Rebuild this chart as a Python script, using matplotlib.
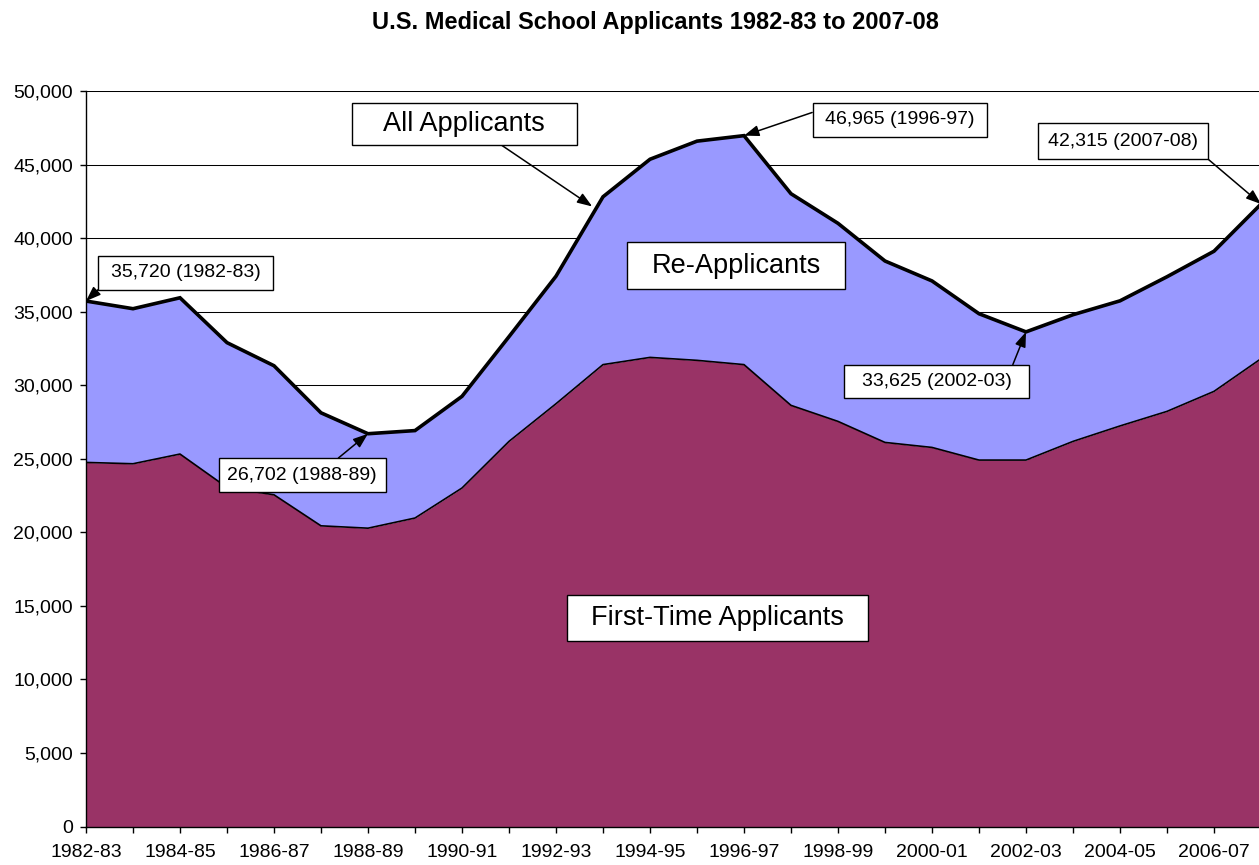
import matplotlib
matplotlib.use("Agg")
import matplotlib.pyplot as plt
from matplotlib.path import Path
from matplotlib.ticker import FuncFormatter

plt.rcParams['font.family'] = ['Liberation Sans', 'DejaVu Sans']

# ---------------- data ----------------
year_labels = ['1982-83', '1983-84', '1984-85', '1985-86', '1986-87', '1987-88',
               '1988-89', '1989-90', '1990-91', '1991-92', '1992-93', '1993-94',
               '1994-95', '1995-96', '1996-97', '1997-98', '1998-99', '1999-00',
               '2000-01', '2001-02', '2002-03', '2003-04', '2004-05', '2005-06',
               '2006-07', '2007-08']
all_applicants = [35720, 35200, 35944, 32893, 31323, 28123, 26702, 26915, 29243,
                  33301, 37410, 42808, 45360, 46591, 46965, 43016, 41004, 38443,
                  37088, 34859, 33625, 34791, 35735, 37373, 39108, 42315]
first_time = [24750, 24660, 25320, 23050, 22550, 20440, 20280, 20970, 23010,
              26180, 28740, 31400, 31890, 31690, 31400, 28630, 27540, 26110,
              25770, 24910, 24910, 26180, 27230, 28220, 29580, 31800]
y_ticks = [0, 5000, 10000, 15000, 20000, 25000, 30000, 35000, 40000, 45000, 50000]
title = 'U.S. Medical School Applicants 1982-83 to 2007-08'

x = list(range(len(year_labels)))

# ---------------- figure ----------------
W, H = 1259, 865
fig = plt.figure(figsize=(W / 100, H / 100), dpi=100)
ax = fig.add_axes([86 / W, 38.5 / H, 1175 / W, 735.5 / H])

ax.fill_between(x, 0, first_time, color='#993366', lw=0, zorder=2)
ax.fill_between(x, first_time, all_applicants, color='#9999FF', lw=0, zorder=2)
ax.plot(x, first_time, color='black', lw=1.2, zorder=3)
ax.plot(x, all_applicants, color='black', lw=2.6, zorder=4,
        solid_joinstyle='miter')

ax.set_xlim(0, len(x) - 1)
ax.set_ylim(0, 50000)
ax.set_yticks(y_ticks)
ax.yaxis.set_major_formatter(FuncFormatter(lambda v, p: f'{v:,.0f}'))
ax.set_xticks(x)
ax.set_xticklabels([lab if i % 2 == 0 else '' for i, lab in enumerate(year_labels)])

ax.set_axisbelow(True)
ax.yaxis.grid(True, color='black', lw=0.75, zorder=0)
for s in ['top', 'right']:
    ax.spines[s].set_visible(False)
for s in ['left', 'bottom']:
    ax.spines[s].set_color('black')
    ax.spines[s].set_linewidth(1.0)
    ax.spines[s].set_zorder(5)
ax.tick_params(axis='both', direction='out', length=4.5, width=1, labelsize=14,
               colors='black')
ax.tick_params(axis='x', pad=8)
ax.tick_params(axis='y', pad=5)


def fixed_box(w_px, h_px):
    def style(x0, y0, width, height, mutation_size):
        cx = x0 + width / 2
        cy = y0 + height / 2
        hw, hh = w_px / 2, h_px / 2
        return Path([(cx - hw, cy - hh), (cx + hw, cy - hh), (cx + hw, cy + hh),
                     (cx - hw, cy + hh), (cx - hw, cy - hh)], closed=True)
    return style


def label(xd, yd, text, size, bw, bh):
    ax.text(xd, yd, text, ha='center', va='center', fontsize=size, zorder=7,
            bbox=dict(boxstyle=fixed_box(bw, bh), fc='white', ec='black', lw=1.0))


def arrow(tip, start):
    ax.annotate('', xy=tip, xytext=start, zorder=6,
                arrowprops=dict(arrowstyle='-|>,head_length=0.6,head_width=0.22',
                                color='black', lw=1.1, shrinkA=0, shrinkB=0,
                                mutation_scale=15))


# big series labels
label(8.05, 47760, 'All Applicants', 19.5, 225, 42)
label(13.83, 38105, 'Re-Applicants', 19.5, 218, 47)
label(13.44, 14190, 'First-Time Applicants', 19.5, 301, 46)
arrow((10.77, 42150), (8.84, 46320))

# value call-outs
label(2.12, 37660, f'{all_applicants[0]:,} ({year_labels[0]})', 14, 175, 34)
arrow((0, all_applicants[0]), (0.26, 36500))

label(4.60, 23890, f'{all_applicants[6]:,} ({year_labels[6]})', 14, 167, 34)
arrow((6, all_applicants[6]), (5.37, 25050))

label(17.31, 48030, f'{all_applicants[14]:,} ({year_labels[14]})', 14, 174, 34)
arrow((14, all_applicants[14]), (15.45, 48540))

label(22.07, 46570, f'{all_applicants[25]:,} ({year_labels[25]})', 14, 170, 36)
arrow((25, all_applicants[25]), (23.88, 45350))

label(18.10, 30260, f'{all_applicants[20]:,} ({year_labels[20]})', 14, 185, 33)
arrow((20, all_applicants[20]), (19.72, 31400))

fig.text(655 / W, 1 - 23 / H, title, ha='center', va='center', fontsize=17,
         fontweight='bold')

fig.savefig('out.png', dpi=100)
